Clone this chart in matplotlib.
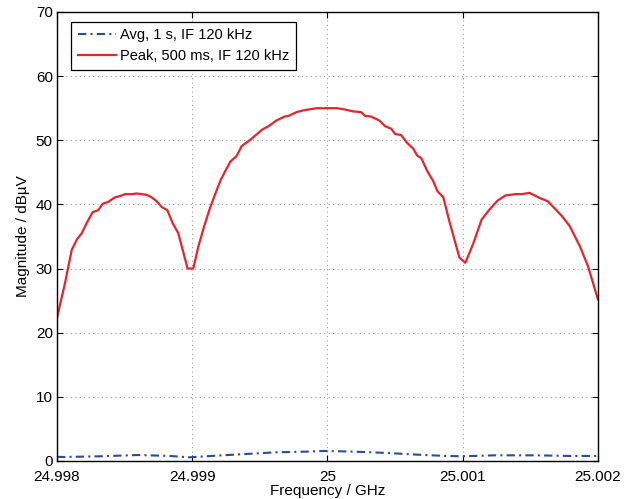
import matplotlib
matplotlib.use('Agg')
import matplotlib.pyplot as plt
import numpy as np

plt.rcParams['font.family'] = ['Liberation Sans', 'DejaVu Sans']

# Frecuencias como desplazamiento en kHz respecto a 25 GHz
peak_off_khz = [-2000, -1941, -1891, -1854, -1817, -1780, -1736, -1695, -1662, -1621,
                -1571, -1534, -1497, -1448, -1411, -1337, -1300, -1263, -1226, -1184,
                -1145, -1103, -1034, -992, -955, -913, -869, -832, -790, -758,
                -717, -673, -634, -569, -480, -435, -376, -316, -287, -227,
                -168, -79, 70, 129, 189, 248, 278, 322, 382, 426,
                471, 500, 545, 589, 634, 664, 694, 738, 783, 812,
                857, 901, 976, 1020, 1080, 1139, 1198, 1258, 1317, 1391,
                1436, 1495, 1569, 1629, 1688, 1733, 1792, 1866, 1926, 2000]
peak_db = [22.3, 27.7, 32.9, 34.5, 35.5, 37.1, 38.8, 39.1, 40.1, 40.4,
           41.1, 41.3, 41.6, 41.6, 41.7, 41.5, 41.1, 40.5, 39.6, 39.1,
           37.1, 35.5, 30.0, 30.0, 33.4, 36.5, 39.4, 41.5, 43.8, 45.1,
           46.7, 47.5, 49.1, 50.1, 51.7, 52.2, 53.1, 53.7, 53.8, 54.4,
           54.7, 55.0, 55.0, 54.8, 54.5, 54.4, 53.8, 53.7, 53.1, 52.2,
           51.8, 51.0, 50.8, 49.6, 48.7, 47.6, 47.2, 45.2, 43.6, 42.1,
           41.1, 37.4, 31.7, 30.9, 34.0, 37.6, 39.2, 40.6, 41.4, 41.6,
           41.6, 41.8, 41.0, 40.5, 39.2, 38.2, 36.6, 33.5, 30.4, 25.2]

avg_off_khz = [-2000, -1953, -1682, -1400, -1164, -1020, -820, -600, -380, -150,
               -20, 190, 440, 660, 880, 1000, 1230, 1550, 1790, 2000]
avg_db = [0.65, 0.62, 0.73, 0.93, 0.78, 0.57, 0.83, 1.09, 1.35, 1.46,
          1.56, 1.46, 1.25, 0.99, 0.78, 0.73, 0.88, 0.88, 0.78, 0.78]

xticks = [24.998, 24.999, 25.0, 25.001, 25.002]
xtick_labels = ["24.998", "24.999", "25", "25.001", "25.002"]
yticks = [0, 10, 20, 30, 40, 50, 60, 70]

peak_f = 25 + np.array(peak_off_khz) * 1e-6
avg_f = 25 + np.array(avg_off_khz) * 1e-6

fig = plt.figure(figsize=(6.29, 4.99), dpi=100)
ax = fig.add_axes([0.0906, 0.0762, 0.86, 0.8998])

ax.plot(avg_f, avg_db, color='#2a4ca0', linewidth=1.5,
        dashes=[4, 2, 1, 2], label='Avg, 1 s, IF 120 kHz')
ax.plot(peak_f, peak_db, color='#e8232b', linewidth=1.6,
        label='Peak, 500 ms, IF 120 kHz')

ax.set_xlim(24.998, 25.002)
ax.set_ylim(0, 70)
ax.set_xticks(xticks)
ax.set_xticklabels(xtick_labels)
ax.set_yticks(yticks)
ax.tick_params(direction='in', length=4, width=0.8, top=True, right=True,
               labelsize=11)
ax.tick_params(axis='x', pad=6.5)
ax.tick_params(axis='y', pad=3)
ax.grid(True, color='#9a9a9a', linestyle=(0, (1, 3)), linewidth=0.8)
for s in ax.spines.values():
    s.set_linewidth(1.0)

ax.set_xlabel('Frequency / GHz', fontsize=11, labelpad=0)
ax.set_ylabel('Magnitude / dB\u00b5V', fontsize=11, labelpad=4)

leg = ax.legend(loc='upper left', fontsize=10.5, fancybox=False,
                edgecolor='black', framealpha=1, handlelength=2.6,
                borderpad=0.45, labelspacing=0.45, handletextpad=0.3,
                borderaxespad=0, bbox_to_anchor=(0.026, 0.978))
leg.get_frame().set_linewidth(0.9)

fig.savefig('out.png', dpi=100)
plt.close(fig)
